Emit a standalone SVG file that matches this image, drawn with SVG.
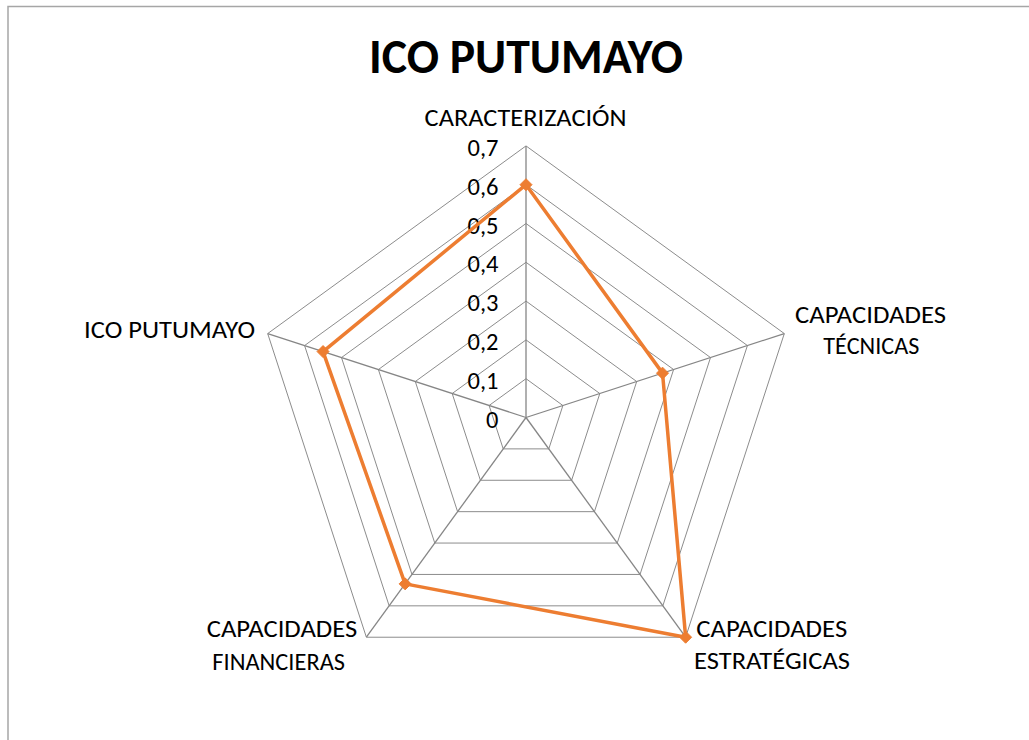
<svg xmlns="http://www.w3.org/2000/svg" width="1029" height="740" viewBox="0 0 1029 740">
  <style>
    .bg { fill: #ffffff; }
    .frame { fill: none; stroke: #a6a6a6; stroke-width: 1.5; }
    .ring { fill: none; stroke: #8c8c8c; stroke-width: 1; }
    .spoke { stroke: #868686; stroke-width: 1.3; }
    .series { fill: none; stroke: #ED7D31; stroke-width: 3.5; stroke-linejoin: round; }
    .marker { fill: #ED7D31; stroke: #ED7D31; stroke-width: 1; }
    .title { font-family: "Carlito", "Open Sans", "Liberation Sans", sans-serif; font-weight: bold; font-size: 48px; fill: #000; text-anchor: middle; }
    .lbl { font-family: "Carlito", "Open Sans", "Liberation Sans", sans-serif; font-size: 24.5px; fill: #000; text-anchor: middle; }
    .tick { font-family: "Carlito", "Open Sans", "Liberation Sans", sans-serif; font-size: 24.5px; fill: #000; text-anchor: end; }
  </style>
  <defs>
    <path id="dia" d="M0,-6 L6,0 L0,6 L-6,0 Z"/>
  </defs>
  <rect class="bg" x="0" y="0" width="1029" height="740"/>
  <rect class="frame" x="8" y="6.5" width="1100" height="800"/>

  <g id="title">
    <text class="title" x="526" y="73" textLength="314" lengthAdjust="spacingAndGlyphs">ICO PUTUMAYO</text>
  </g>

  <g id="grid">
    <polygon class="ring" points="526,378.7 562.90,405.51 548.81,448.89 503.19,448.89 489.10,405.51"/>
    <polygon class="ring" points="526,339.9 599.80,393.52 571.62,480.28 480.38,480.28 452.20,393.52"/>
    <polygon class="ring" points="526,301.1 636.70,381.53 594.42,511.67 457.58,511.67 415.30,381.53"/>
    <polygon class="ring" points="526,262.3 673.60,369.54 617.23,543.06 434.77,543.06 378.40,369.54"/>
    <polygon class="ring" points="526,223.5 710.51,357.55 640.04,574.45 411.96,574.45 341.49,357.55"/>
    <polygon class="ring" points="526,184.7 747.41,345.56 662.85,605.84 389.15,605.84 304.59,345.56"/>
    <polygon class="ring" points="526,145.9 784.31,333.57 685.64,637.23 366.36,637.23 267.69,333.57"/>
  </g>

  <g id="connectors">
    <line class="spoke" x1="526" y1="417.5" x2="526" y2="145.9"/>
    <line class="spoke" x1="526" y1="417.5" x2="784.31" y2="333.57"/>
    <line class="spoke" x1="526" y1="417.5" x2="685.64" y2="637.23"/>
    <line class="spoke" x1="526" y1="417.5" x2="366.36" y2="637.23"/>
    <line class="spoke" x1="526" y1="417.5" x2="267.69" y2="333.57"/>
  </g>

  <g id="tick-labels">
    <text class="tick" x="498.5" y="156">0,7</text>
    <text class="tick" x="498.5" y="194.8">0,6</text>
    <text class="tick" x="498.5" y="233.6">0,5</text>
    <text class="tick" x="498.5" y="272.4">0,4</text>
    <text class="tick" x="498.5" y="311.2">0,3</text>
    <text class="tick" x="498.5" y="350">0,2</text>
    <text class="tick" x="498.5" y="388.8">0,1</text>
    <text class="tick" x="498.5" y="427.6">0</text>
  </g>

  <g id="series">
    <polygon class="series" points="526,184.7 662.53,373.14 685.64,637.23 405.13,583.87 323.04,351.55"/>
    <use href="#dia" class="marker" x="526" y="184.7"/>
    <use href="#dia" class="marker" x="662.53" y="373.14"/>
    <use href="#dia" class="marker" x="685.64" y="637.23"/>
    <use href="#dia" class="marker" x="405.13" y="583.87"/>
    <use href="#dia" class="marker" x="323.04" y="351.55"/>
  </g>

  <g id="node-caracterizacion">
    <text class="lbl" x="525.6" y="125.7" textLength="202" lengthAdjust="spacingAndGlyphs">CARACTERIZACIÓN</text>
  </g>
  <g id="node-capacidades-tecnicas">
    <text class="lbl" x="870.5" y="323.3" textLength="151" lengthAdjust="spacingAndGlyphs">CAPACIDADES</text>
    <text class="lbl" x="871.3" y="354.3" textLength="96" lengthAdjust="spacingAndGlyphs">TÉCNICAS</text>
  </g>
  <g id="node-capacidades-estrategicas">
    <text class="lbl" x="771.7" y="637.3" textLength="151" lengthAdjust="spacingAndGlyphs">CAPACIDADES</text>
    <text class="lbl" x="772" y="669.3" textLength="156" lengthAdjust="spacingAndGlyphs">ESTRATÉGICAS</text>
  </g>
  <g id="node-capacidades-financieras">
    <text class="lbl" x="282" y="637.3" textLength="150.6" lengthAdjust="spacingAndGlyphs">CAPACIDADES</text>
    <text class="lbl" x="278.7" y="670" textLength="132.7" lengthAdjust="spacingAndGlyphs">FINANCIERAS</text>
  </g>
  <g id="node-ico-putumayo">
    <text class="lbl" x="169.5" y="338.3" textLength="171" lengthAdjust="spacingAndGlyphs">ICO PUTUMAYO</text>
  </g>
</svg>
